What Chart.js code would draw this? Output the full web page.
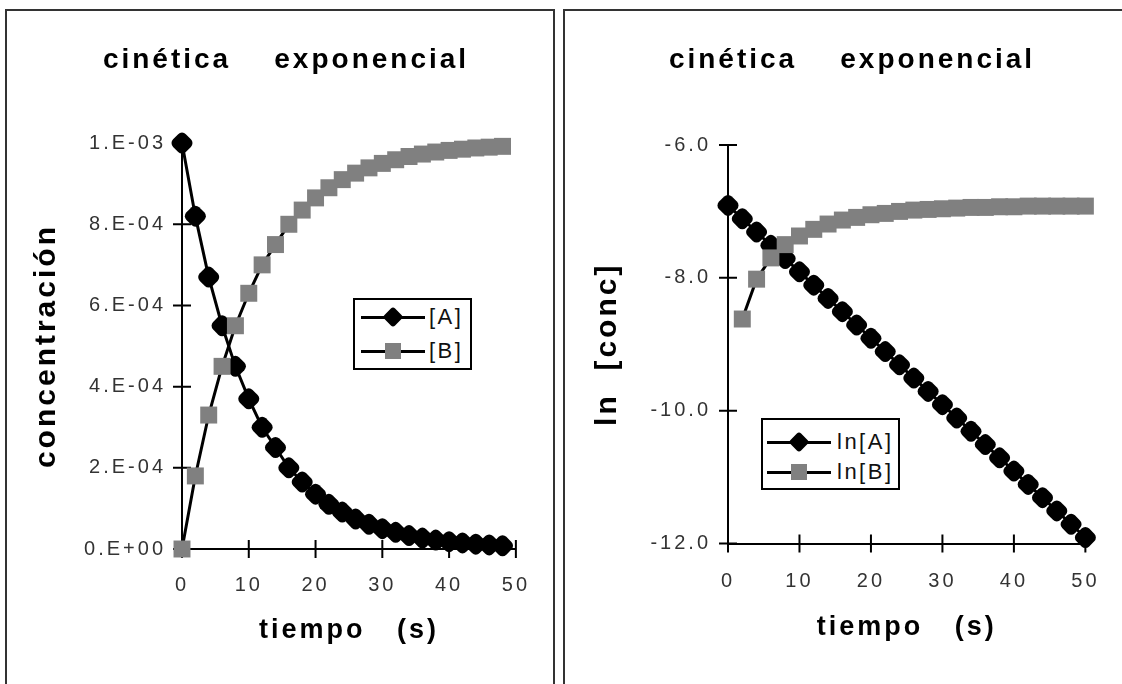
<!DOCTYPE html>
<html>
<head>
<meta charset="utf-8">
<script src="https://cdn.jsdelivr.net/npm/chart.js@4.4.1/dist/chart.umd.min.js"></script>
<style>
	body { margin: 0; background: #fff; width: 1122px; height: 684px; overflow: hidden; position: relative; }
	.panel { position: absolute; top: 9px; height: 700px; border: 2px solid #333; box-sizing: border-box; }
	.holder { position: absolute; top: 12px; }
	.legend {
		position: absolute; box-sizing: border-box; background: #fff;
		border: 2px solid #000; font: 22px "Liberation Sans", Arial, sans-serif;
		letter-spacing: 2.5px; color: #111;
	}
	.legend .row { display: flex; align-items: center; }
	.legend .key { position: relative; width: 64px; height: 3px; background: #000; }
	.legend .diamond, .legend .square { position: absolute; left: 50%; top: 50%; }
	.legend .diamond { width: 15px; height: 15px; border-radius: 3px; background: #000; transform: translate(-50%, -50%) rotate(45deg); }
	.legend .square { width: 16px; height: 16px; background: #808080; transform: translate(-50%, -50%); }
	#legConc { left: 353px; top: 298px; width: 119px; height: 72px; padding-left: 6px; }
	#legConc .row { height: 34px; }
	#legConc .key { margin-right: 4px; }
	#legLn { left: 761px; top: 418px; width: 139px; height: 72px; padding: 7px 0 0 4px; }
	#legLn .row { height: 30px; }
	#legLn .key { margin-right: 6px; }
</style>
</head>
<body>
<div class="panel" style="left:5px; width:550px;"></div>
<div class="panel" style="left:563px; width:600px;"></div>
<div class="holder" style="left:8px;"><canvas id="concentracion" width="543" height="672"></canvas></div>
<div class="holder" style="left:566px;"><canvas id="logaritmo" width="556" height="672"></canvas></div>
<div class="legend" id="legConc"></div>
<div class="legend" id="legLn"></div>

<script>
// datos
var tituloGraf = 'cinética    exponencial';
var tituloTiempo = 'tiempo   (s)';

var tiempoConc = [0, 2, 4, 6, 8, 10, 12, 14, 16, 18, 20, 22, 24, 26, 28, 30, 32, 34, 36, 38, 40, 42, 44, 46, 48];
var concA = [1.0e-3, 8.2e-4, 6.7e-4, 5.5e-4, 4.5e-4, 3.7e-4, 3.0e-4, 2.5e-4, 2.0e-4, 1.65e-4, 1.35e-4, 1.1e-4, 9.1e-5,
	7.4e-5, 6.1e-5, 5.0e-5, 4.1e-5, 3.3e-5, 2.7e-5, 2.2e-5, 1.8e-5, 1.5e-5, 1.2e-5, 1.0e-5, 8.0e-6];
var concB = [0, 1.8e-4, 3.3e-4, 4.5e-4, 5.5e-4, 6.3e-4, 7.0e-4, 7.5e-4, 8.0e-4, 8.35e-4, 8.65e-4, 8.9e-4, 9.1e-4,
	9.26e-4, 9.39e-4, 9.5e-4, 9.59e-4, 9.67e-4, 9.73e-4, 9.78e-4, 9.82e-4, 9.85e-4, 9.88e-4, 9.9e-4, 9.92e-4];
var seriesConc = ['[A]', '[B]'];
var ticksConc = ['0.E+00', '2.E-04', '4.E-04', '6.E-04', '8.E-04', '1.E-03'];

var tiempoLn = [0, 2, 4, 6, 8, 10, 12, 14, 16, 18, 20, 22, 24, 26, 28, 30, 32, 34, 36, 38, 40, 42, 44, 46, 48, 50];
var lnA = [-6.91, -7.11, -7.31, -7.51, -7.71, -7.91, -8.11, -8.31, -8.51, -8.71, -8.91, -9.11, -9.31,
	-9.51, -9.71, -9.91, -10.11, -10.31, -10.51, -10.71, -10.91, -11.11, -11.31, -11.51, -11.71, -11.91];
var lnB = [null, -8.62, -8.02, -7.70, -7.50, -7.37, -7.27, -7.19, -7.13, -7.09, -7.05, -7.03, -7.00,
	-6.98, -6.97, -6.96, -6.95, -6.94, -6.94, -6.93, -6.93, -6.92, -6.92, -6.92, -6.92, -6.92];
var seriesLn = ['ln[A]', 'ln[B]'];
var ticksLn = ['-12.0', '-10.0', '-8.0', '-6.0'];

var ticksTiempo = ['0', '10', '20', '30', '40', '50'];

Chart.defaults.font.family = '"Liberation Sans", Arial, sans-serif';
Chart.defaults.color = '#333';

// letras separadas como en el original
var spacing = {
	id: 'spacing',
	beforeDraw: function (chart) {
		chart.ctx.letterSpacing = '3px';
	}
};

// marcas que cruzan el eje
var crossTicks = {
	id: 'crossTicks',
	beforeDatasetsDraw: function (chart) {
		var ctx = chart.ctx, area = chart.chartArea;
		var x = chart.scales.x, y = chart.scales.y;
		ctx.save();
		ctx.strokeStyle = '#000';
		ctx.lineWidth = 2;
		ctx.beginPath();
		x.ticks.forEach(function (t) {
			var px = x.getPixelForValue(t.value);
			ctx.moveTo(px, area.bottom - 9);
			ctx.lineTo(px, area.bottom + 9);
		});
		y.ticks.forEach(function (t) {
			var py = y.getPixelForValue(t.value);
			ctx.moveTo(area.left - 9, py);
			ctx.lineTo(area.left + 9, py);
		});
		ctx.stroke();
		ctx.restore();
	}
};

// leyenda en html
var htmlLegend = {
	id: 'htmlLegend',
	afterUpdate: function (chart, args, opts) {
		var box = document.getElementById(opts.containerID);
		box.innerHTML = '';
		chart.data.datasets.forEach(function (ds) {
			var row = document.createElement('div');
			row.className = 'row';
			var key = document.createElement('span');
			key.className = 'key';
			var mark = document.createElement('span');
			mark.className = ds.pointStyle === 'rectRounded' ? 'diamond' : 'square';
			key.appendChild(mark);
			var txt = document.createElement('span');
			txt.textContent = ds.label;
			row.appendChild(key);
			row.appendChild(txt);
			box.appendChild(row);
		});
	}
};

function pares(tiempos, valores) {
	return tiempos.map(function (t, i) {
		return { x: t, y: valores[i] };
	});
}

function serie(label, data, marca) {
	var rombo = marca === 'rombo';
	return {
		label: label,
		data: data,
		borderColor: '#000',
		borderWidth: 3,
		pointStyle: rombo ? 'rectRounded' : 'rect',
		pointRotation: rombo ? 45 : 0,
		pointRadius: rombo ? 10.5 : 12,
		pointBackgroundColor: rombo ? '#000' : '#808080',
		pointBorderWidth: 0,
		clip: false,
		order: rombo ? 1 : 0
	};
}

function opciones(cfg) {
	return {
		responsive: false,
		animation: false,
		layout: { padding: { left: 39, right: cfg.padRight, top: 0, bottom: 0 } },
		plugins: {
			legend: { display: false },
			tooltip: { enabled: false },
			htmlLegend: { containerID: cfg.legend },
			title: {
				display: true,
				text: tituloGraf,
				color: '#000',
				font: { size: 28, weight: 'bold' },
				padding: { top: 31.5, bottom: cfg.titleBottom }
			}
		},
		scales: {
			x: {
				type: 'linear',
				min: 0,
				max: 50,
				grid: { display: false, drawTicks: false },
				border: { color: '#000', width: 2 },
				ticks: {
					stepSize: 10,
					padding: cfg.xPad,
					maxRotation: 0,
					font: { size: 20 },
					callback: function (v, i) { return ticksTiempo[i]; }
				},
				title: {
					display: true,
					text: tituloTiempo,
					color: '#000',
					font: { size: 27, weight: 'bold' },
					padding: { top: 0, bottom: cfg.xTitleBottom }
				},
				afterFit: function (s) { s.height = cfg.xHeight; }
			},
			y: {
				min: cfg.yMin,
				max: cfg.yMax,
				grid: { display: false, drawTicks: false },
				border: { color: '#000', width: 2 },
				ticks: {
					stepSize: cfg.yStep,
					padding: cfg.yPad,
					font: { size: 20 },
					callback: function (v, i) { return cfg.yTicks[i]; }
				},
				title: {
					display: true,
					text: cfg.yTitle,
					color: '#000',
					font: { size: 30, weight: 'bold' },
					padding: { top: cfg.yTitleTop, bottom: 0 }
				},
				afterFit: function (s) { s.width = cfg.yWidth; }
			}
		}
	};
}

new Chart(document.getElementById('concentracion'), {
	type: 'line',
	data: {
		datasets: [
			serie(seriesConc[0], pares(tiempoConc, concA), 'rombo'),
			serie(seriesConc[1], pares(tiempoConc, concB), 'cuadro')
		]
	},
	options: opciones({
		legend: 'legConc', padRight: 26, titleBottom: 66,
		xPad: 24, xTitleBottom: 37.5, xHeight: 135,
		yMin: 0, yMax: 0.001, yStep: 0.0002, yTicks: ticksConc, yPad: 16,
		yTitle: 'concentración', yTitleTop: -18.4, yWidth: 135
	}),
	plugins: [spacing, crossTicks, htmlLegend]
});

new Chart(document.getElementById('logaritmo'), {
	type: 'line',
	data: {
		datasets: [
			serie(seriesLn[0], pares(tiempoLn, lnA), 'rombo'),
			serie(seriesLn[1], pares(tiempoLn, lnB), 'cuadro')
		]
	},
	options: opciones({
		legend: 'legLn', padRight: 23, titleBottom: 67.9,
		xPad: 25.5, xTitleBottom: 40.2, xHeight: 140.5,
		yMin: -12, yMax: -6, yStep: 2, yTicks: ticksLn, yPad: 17,
		yTitle: 'ln  [conc]', yTitleTop: -15.4, yWidth: 123
	}),
	plugins: [spacing, crossTicks, htmlLegend]
});
</script>
</body>
</html>
